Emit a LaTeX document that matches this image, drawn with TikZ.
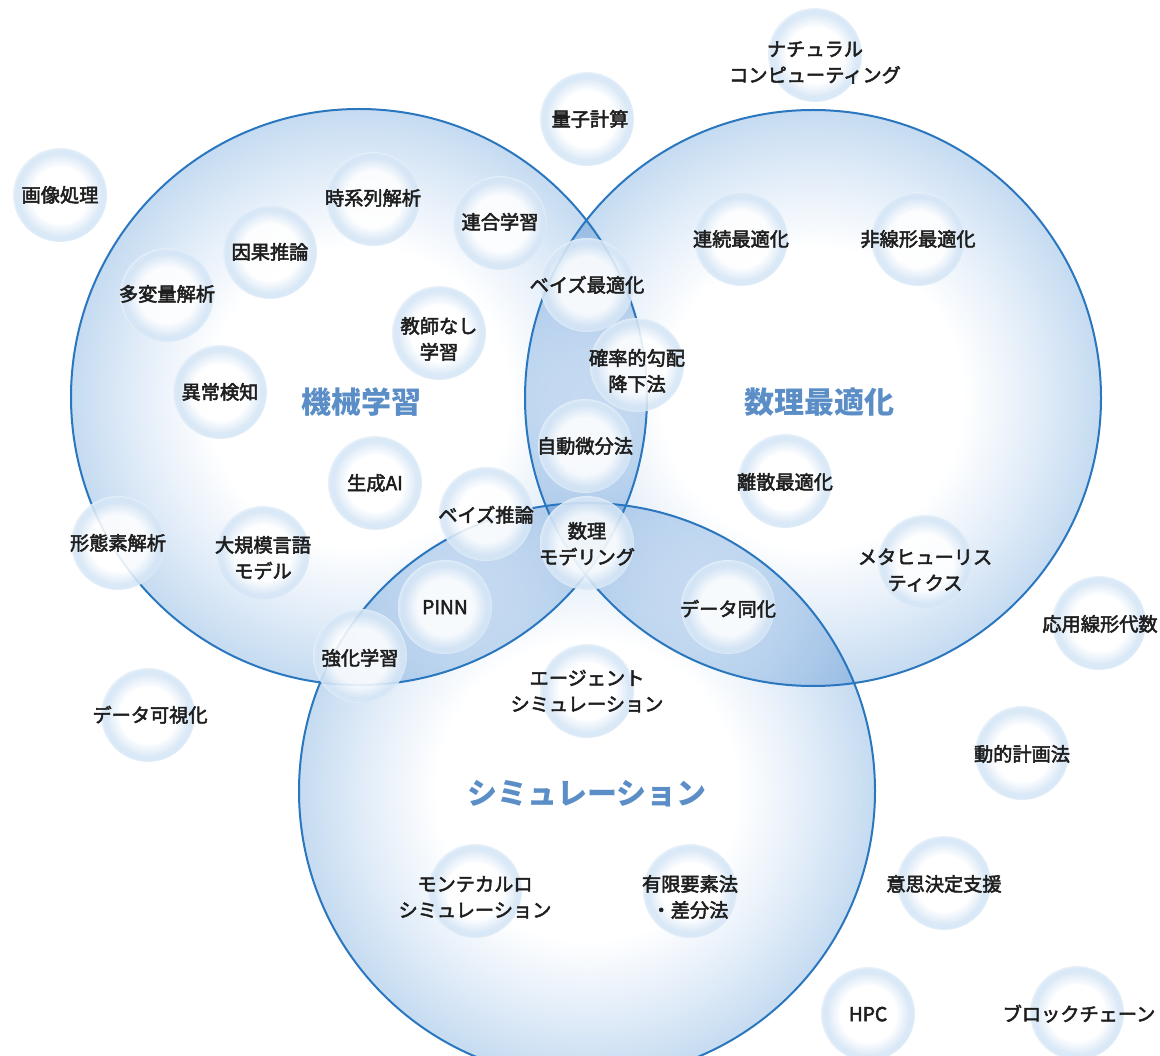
\documentclass[tikz,border=0pt]{standalone}
\usepackage{fontspec}
\setmainfont{Noto Sans CJK JP}
\newfontfamily\bubfont{Noto Sans CJK JP}[FakeBold=2.6]
\definecolor{rimblue}{HTML}{C5DBF1}
\definecolor{midblue}{HTML}{E4EEF9}
\definecolor{linblue}{HTML}{2A77BF}
\definecolor{lblblue}{HTML}{5B8EC6}
\definecolor{bubrim}{HTML}{D6E6F6}
\definecolor{bubedge}{HTML}{E6F0FA}
\definecolor{txtcol}{HTML}{1E1E1E}
\pgfdeclareradialshading{bigshade}{\pgfpoint{0bp}{0bp}}{color(0bp)=(white); color(13bp)=(white); color(19bp)=(midblue); color(25bp)=(rimblue); color(50bp)=(rimblue)}
\pgfdeclareradialshading{bubshade}{\pgfpoint{0bp}{0bp}}{color(0bp)=(white); color(15bp)=(white); color(22bp)=(bubrim); color(24bp)=(bubrim); color(25bp)=(bubedge); color(50bp)=(bubedge)}
\newcommand{\bt}[1]{\begin{tabular}{@{}c@{}}#1\end{tabular}}
\newcommand{\bub}[3]{\node[bubble] (#1) at (#2,#3) {};}
\newcommand{\btx}[4]{\node[btext] (#1t) at (#2,#3) {\bt{#4}};}
\begin{document}
\begin{tikzpicture}[x=1pt, y=-1pt,
  bubble/.style={circle, minimum size=94pt, inner sep=0pt, shade, shading=bubshade,
    fill opacity=0.88},
  btext/.style={inner sep=0pt, text=txtcol, font=\bubfont\fontsize{19.2}{26}\selectfont},
  biglabel/.style={inner sep=0pt, text=lblblue, font=\bfseries\fontsize{30}{36}\selectfont},
  ring/.style={draw=linblue, line width=2pt}]
\useasboundingbox (0,0) rectangle (1160,1056);
\fill[white] (0,0) rectangle (1160,1056);
\clip (0,0) rectangle (1160,1056);
\coordinate (cml) at (359,397);
\coordinate (copt) at (813,398);
\coordinate (csim) at (587,791);
\begin{scope}[blend mode=multiply]
  \shade[shading=bigshade] (cml) circle (288pt);
  \shade[shading=bigshade] (copt) circle (288pt);
  \shade[shading=bigshade] (csim) circle (288pt);
\end{scope}
\draw[ring] (cml) circle (288pt);
\draw[ring] (copt) circle (288pt);
\draw[ring] (csim) circle (288pt);
\node[biglabel] (lml) at (361,402) {機械学習};
\node[biglabel] (lopt) at (819,402) {数理最適化};
\node[biglabel] (lsim) at (587,794) {シミュレーション};
% bubbles
\bub{b01}{60}{195}
\bub{b02}{373}{199}
\bub{b03}{500}{223}
\bub{b04}{270}{252}
\bub{b05}{167}{295}
\bub{b06}{439}{333}
\bub{b07}{220}{392}
\bub{b08}{375}{483}
\bub{b09}{486}{514}
\bub{b10}{587}{119}
\bub{b11}{815}{55}
\bub{b12}{741}{239}
\bub{b13}{918}{239}
\bub{b14}{587}{285}
\bub{b15}{637}{365}
\bub{b16}{585}{446}
\bub{b17}{587}{543}
\bub{b18}{445}{607}
\bub{b19}{728}{607}
\bub{b20}{587}{691}
\bub{b21}{118}{543}
\bub{b22}{263}{553}
\bub{b23}{360}{656}
\bub{b24}{148}{715}
\bub{b25}{475}{891}
\bub{b26}{690}{891}
\bub{b27}{925}{562}
\bub{b28}{785}{481}
\bub{b29}{1099}{623}
\bub{b30}{1022}{753}
\bub{b31}{944}{883}
\bub{b32}{868}{1014}
\bub{b33}{1077}{1013}
% texts
\btx{b01}{60}{197}{画像処理}
\btx{b02}{373}{200}{時系列解析}
\btx{b03}{500}{224}{連合学習}
\btx{b04}{270}{254}{因果推論}
\btx{b05}{167}{296}{多変量解析}
\btx{b06}{439}{341}{教師なし\\学習}
\btx{b07}{220}{394}{異常検知}
\btx{b08}{375}{485}{生成AI}
\btx{b09}{486}{517}{ベイズ推論}
\btx{b10}{590}{121}{量子計算}
\btx{b11}{815}{64}{ナチュラル\\コンピューティング}
\btx{b12}{741}{241}{連続最適化}
\btx{b13}{918}{241}{非線形最適化}
\btx{b14}{587}{287}{ベイズ最適化}
\btx{b15}{637}{373}{確率的勾配\\降下法}
\btx{b16}{585}{448}{自動微分法}
\btx{b17}{587}{546}{数理\\モデリング}
\btx{b18}{445}{609}{PINN}
\btx{b19}{728}{611}{データ同化}
\btx{b20}{587}{693}{エージェント\\シミュレーション}
\btx{b21}{118}{545}{形態素解析}
\btx{b22}{263}{560}{大規模言語\\モデル}
\btx{b23}{360}{660}{強化学習}
\btx{b24}{150}{717}{データ可視化}
\btx{b25}{475}{899}{モンテカルロ\\シミュレーション}
\btx{b26}{690}{899}{有限要素法\\・差分法}
\btx{b27}{925}{572}{メタヒューリス\\ティクス}
\btx{b28}{785}{484}{離散最適化}
\btx{b29}{1100}{626}{応用線形代数}
\btx{b30}{1022}{756}{動的計画法}
\btx{b31}{944}{886}{意思決定支援}
\btx{b32}{868}{1016}{HPC}
\btx{b33}{1079}{1016}{ブロックチェーン}
\end{tikzpicture}
\end{document}
